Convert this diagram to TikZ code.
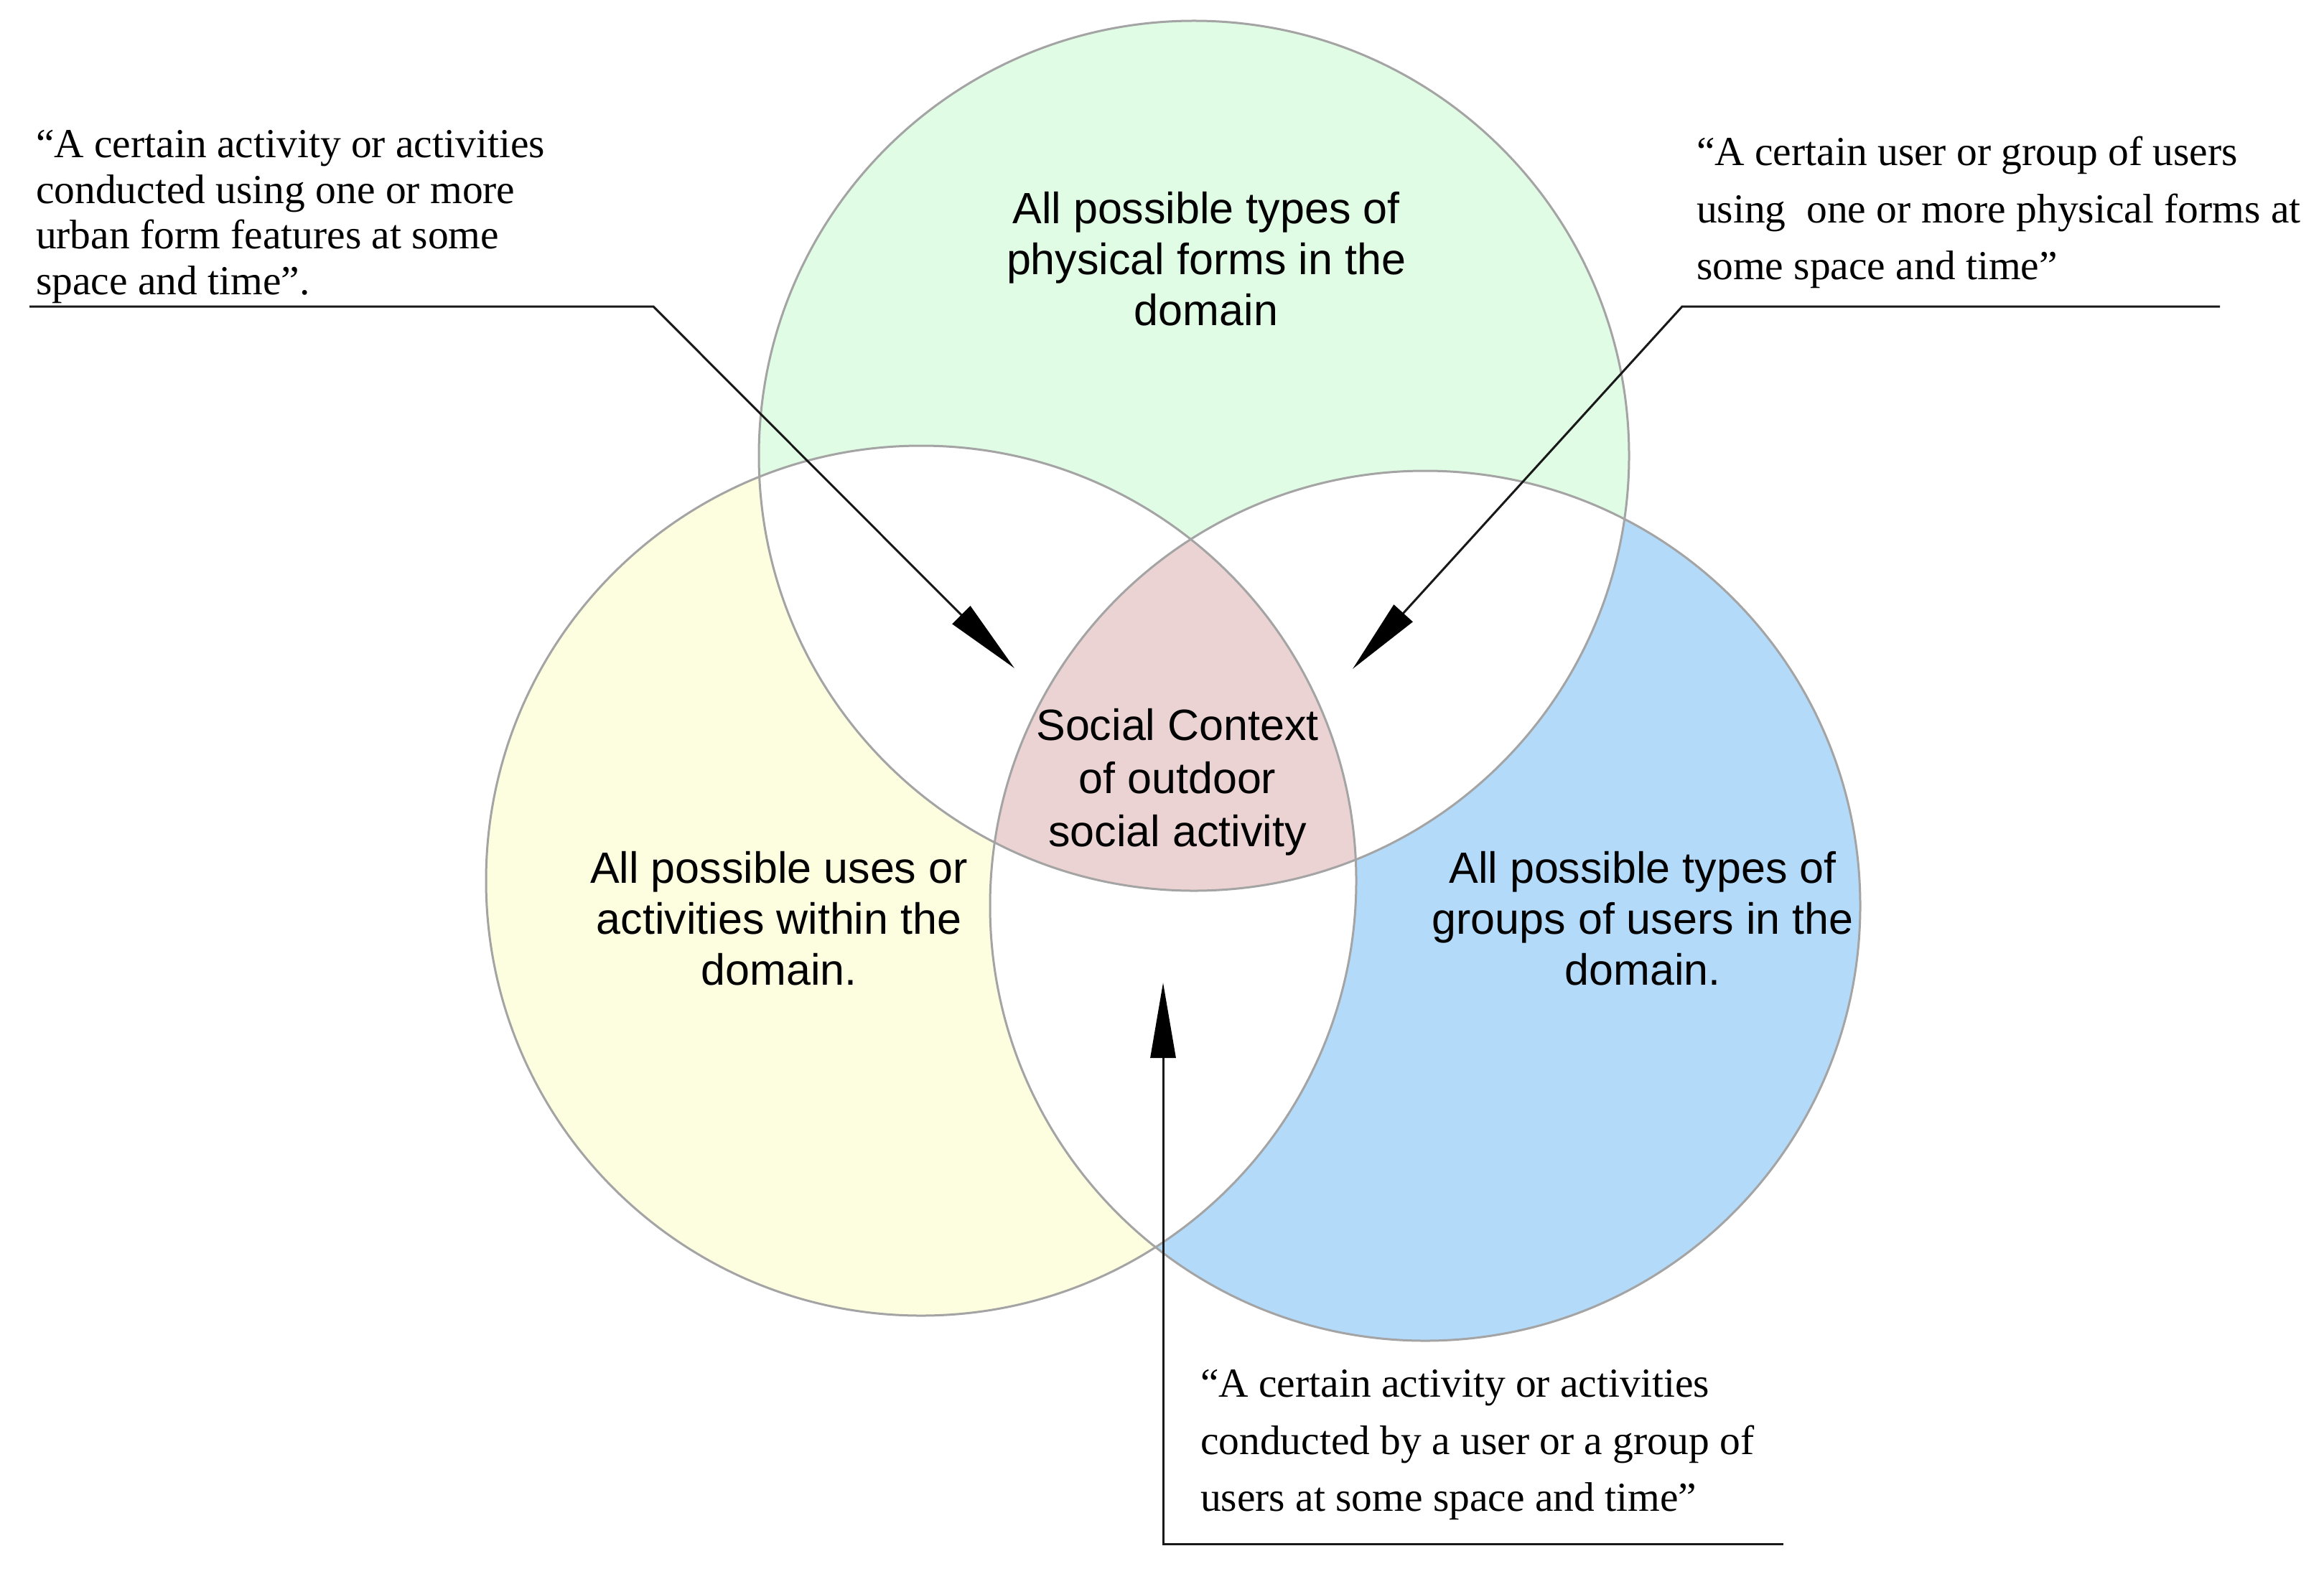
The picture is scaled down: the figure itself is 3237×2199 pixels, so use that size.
\documentclass[tikz,border=0pt]{standalone}
\usepackage{fontspec}
\setmainfont{Liberation Serif}
\newfontfamily\sansf{Liberation Sans}
\usetikzlibrary{arrows.meta}
\definecolor{cgreen}{HTML}{E0FCE4}
\definecolor{cyellow}{HTML}{FDFDE0}
\definecolor{cblue}{HTML}{B4DAFA}
\definecolor{cpink}{HTML}{ECD3D3}
\definecolor{cedge}{HTML}{A4A4A4}
\tikzset{
  setedge/.style={draw=cedge, line width=0.6pt},
  sanslabel/.style={font={\sansf\fontsize{12.2}{14.2}\selectfont}, align=center, inner sep=0pt},
  quotelabel/.style={font={\fontsize{11.5}{15.9}\selectfont}, align=left, inner sep=0pt, anchor=west},
  leader/.style={draw=black!90, line width=0.6pt, -{Triangle[length=21pt,width=7pt,color=black]}}
}
\begin{document}
\begin{tikzpicture}[x=0.2pt,y=-0.2pt]
\useasboundingbox (0,0) rectangle (3237,2199);
\fill[white] (0,0) rectangle (3237,2199);
\def\R{121.2pt}
\coordinate (cG) at (1663,635);
\coordinate (cY) at (1283,1227);
\coordinate (cB) at (1985,1262);
% single-set regions
\fill[cgreen] (cG) circle[radius=\R];
\fill[cyellow] (cY) circle[radius=\R];
\fill[cblue] (cB) circle[radius=\R];
% pairwise intersections white
\begin{scope}
  \clip (cG) circle[radius=\R];
  \fill[white] (cY) circle[radius=\R];
  \fill[white] (cB) circle[radius=\R];
\end{scope}
\begin{scope}
  \clip (cY) circle[radius=\R];
  \fill[white] (cB) circle[radius=\R];
\end{scope}
% triple intersection
\begin{scope}
  \clip (cG) circle[radius=\R];
  \clip (cY) circle[radius=\R];
  \fill[cpink] (cB) circle[radius=\R];
\end{scope}
% outlines
\draw[setedge] (cG) circle[radius=\R];
\draw[setedge] (cY) circle[radius=\R];
\draw[setedge] (cB) circle[radius=\R];
% set labels
\node[sanslabel] (tG) at (1680,361) {All possible types of\\physical forms in the\\domain};
\node[sanslabel] (tY) at (1085,1280) {All possible uses or\\activities within the\\domain.};
\node[sanslabel] (tB) at (2288,1280) {All possible types of\\groups of users in the\\domain.};
\node[sanslabel, font={\sansf\fontsize{12.2}{14.8}\selectfont}] (tC) at (1640,1090) {Social Context\\of outdoor\\social activity};
% quotes
\node[quotelabel, font={\fontsize{11.5}{12.7}\selectfont}] (qL) at (49,302) {“A certain activity or activities\\conducted using one or more\\urban form features at some\\space and time”.};
\node[quotelabel] (qR) at (2362,296) {“A certain user or group of users\\using\ \ one or more physical forms at\\some space and time”};
\node[quotelabel] (qB) at (1671,2013) {“A certain activity or activities\\conducted by a user or a group of\\users at some space and time”};
% leader coordinates
\coordinate (L1) at (41,427);
\coordinate (L2) at (910,427);
\coordinate (Lt) at (1413,931);
\coordinate (R1) at (3092,427);
\coordinate (R2) at (2343,427);
\coordinate (Rt) at (1884,932);
\coordinate (B1) at (2484,2151);
\coordinate (B2) at (1620,2151);
\coordinate (Bt) at (1620,1369);
\draw[leader] (L1) -- (L2) -- (Lt);
\draw[leader] (R1) -- (R2) -- (Rt);
\draw[leader] (B1) -- (B2) -- (Bt);
\end{tikzpicture}
\end{document}
